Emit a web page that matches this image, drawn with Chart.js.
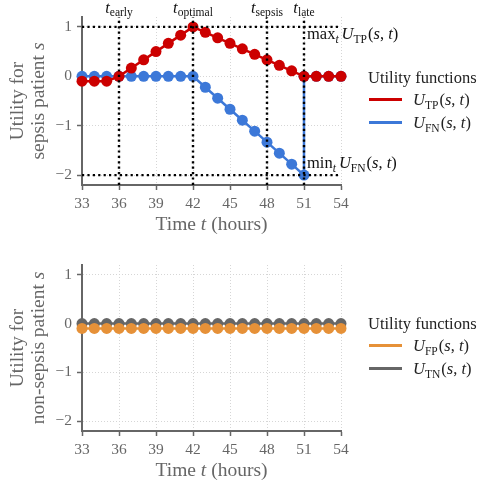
<!DOCTYPE html>
<html>
<head>
<meta charset="utf-8">
<script src="https://cdn.jsdelivr.net/npm/chart.js@4.4.1/dist/chart.umd.min.js"></script>
<style>
  html, body { margin: 0; padding: 0; background: #fff; }
  #wrap { position: relative; width: 478px; height: 482px; }
  .box { position: absolute; left: 0; width: 478px; }
</style>
</head>
<body>
<div id="wrap">
  <div class="box" style="top:0;height:240px"><canvas id="c1"></canvas></div>
  <div class="box" style="top:240px;height:242px"><canvas id="c2"></canvas></div>
</div>
<script>
// ---- data ----
const hours = [33,34,35,36,37,38,39,40,41,42,43,44,45,46,47,48,49,50,51,52,53,54];
const uTP   = [-0.1,-0.1,-0.1,0,0.167,0.333,0.5,0.667,0.833,1,0.889,0.778,0.667,0.556,0.444,0.333,0.222,0.111,0,0,0,0];
const fnHours = [33,34,35,36,37,38,39,40,41,42,43,44,45,46,47,48,49,50,51,51,52,53,54];
const uFN   = [0,0,0,0,0,0,0,0,0,0,-0.222,-0.444,-0.667,-0.889,-1.111,-1.333,-1.556,-1.778,-2,0,0,0,0];
const uFP   = [-0.1,-0.1,-0.1,-0.1,-0.1,-0.1,-0.1,-0.1,-0.1,-0.1,-0.1,-0.1,-0.1,-0.1,-0.1,-0.1,-0.1,-0.1,-0.1,-0.1,-0.1,-0.1];
const uTN   = [0,0,0,0,0,0,0,0,0,0,0,0,0,0,0,0,0,0,0,0,0,0];
const xTicks = [33,36,39,42,45,48,51,54];
const yTicks = [-2,-1,0,1];
const keyTimes = [36,42,48,51];
const keyTimeNames = ['early','optimal','sepsis','late'];
const refLevels = [1,-2];
const legendTitle = 'Utility functions';
const topSubs = ['TP','FN'];
const bottomSubs = ['FP','TN'];

const COLORS = { TP:'#cc0000', FN:'#3c78d8', FP:'#e69138', TN:'#666666' };
const FONT = "'Liberation Serif', 'DejaVu Serif', serif";

function pts(xs, ys){ return xs.map((x,i)=>({x:x, y:ys[i]})); }

// rich text: parts [{t, it, sub}]
function richWidth(ctx, parts, size){
  let w = 0;
  for (const p of parts){
    const s = p.sub ? size*0.7 : size;
    ctx.font = (p.it ? 'italic ' : '') + s + 'px ' + FONT;
    w += ctx.measureText(p.t).width + (p.gap||0);
  }
  return w;
}
function drawRich(ctx, parts, x, y, align, size, color){
  const w = richWidth(ctx, parts, size);
  let cx = align === 'center' ? x - w/2 : (align === 'right' ? x - w : x);
  ctx.save();
  ctx.fillStyle = color;
  ctx.textBaseline = 'alphabetic';
  ctx.textAlign = 'left';
  for (const p of parts){
    const s = p.sub ? size*0.7 : size;
    ctx.font = (p.it ? 'italic ' : '') + s + 'px ' + FONT;
    ctx.fillText(p.t, cx, y + (p.sub ? size*0.22 : 0));
    cx += ctx.measureText(p.t).width + (p.gap||0);
  }
  ctx.restore();
}
function uLabel(sub){
  return [{t:'U', it:true}, {t:sub, sub:true, gap:1}, {t:'(', it:false}, {t:'s', it:true}, {t:', ', it:false}, {t:'t', it:true}, {t:')', it:false}];
}

const decoPlugin = {
  id: 'deco',
  afterDatasetsDraw(chart, args, opts){
    const ctx = chart.ctx, xs = chart.scales.x, ys = chart.scales.y, ca = chart.chartArea;
    if (opts.refs){
      ctx.save();
      ctx.strokeStyle = '#000';
      ctx.lineWidth = 2.4;
      ctx.setLineDash([2.2, 3.2]);
      for (const lv of refLevels){
        const py = ys.getPixelForValue(lv);
        ctx.beginPath(); ctx.moveTo(ca.left, py); ctx.lineTo(ca.right, py); ctx.stroke();
      }
      for (const t of keyTimes){
        const px = xs.getPixelForValue(t);
        ctx.beginPath(); ctx.moveTo(px, ca.bottom); ctx.lineTo(px, ca.top); ctx.stroke();
      }
      ctx.restore();
      keyTimes.forEach((t,i)=>{
        const px = xs.getPixelForValue(t);
        drawRich(ctx, [{t:'t', it:true}, {t:keyTimeNames[i], sub:true}], px, 12.5, 'center', 16.5, '#111');
      });
      const ax = xs.getPixelForValue(51) + 3;
      drawRich(ctx, [{t:'max', it:false}, {t:'t', it:true, sub:true, gap:3}].concat(uLabel('TP')), ax, ys.getPixelForValue(1) + 12, 'left', 16.5, '#111');
      drawRich(ctx, [{t:'min', it:false}, {t:'t', it:true, sub:true, gap:3}].concat(uLabel('FN')), ax, ys.getPixelForValue(-2) - 7, 'left', 16.5, '#111');
    }
  },
  afterDraw(chart, args, opts){
    const ctx = chart.ctx, ca = chart.chartArea;
    // axis titles
    const midX = (ca.left + ca.right)/2;
    drawRich(ctx, [{t:'Time '}, {t:'t', it:true}, {t:' (hours)'}], midX, ca.bottom + 44.5, 'center', 19.5, '#666');
    const midY = (ca.top + ca.bottom)/2;
    ctx.save();
    ctx.translate(0, midY);
    ctx.rotate(-Math.PI/2);
    drawRich(ctx, [{t:'Utility for'}], 0, 23, 'center', 19.5, '#666');
    drawRich(ctx, [{t:opts.who + ' patient '}, {t:'s', it:true}], 0, 44, 'center', 19.5, '#666');
    ctx.restore();
    // legend
    const ly = ca.top + opts.legendTop;
    drawRich(ctx, [{t:legendTitle}], 368, ly, 'left', 16.5, '#222');
    chart.data.datasets.forEach((ds, i)=>{
      const yy = ly + 22.5 + i*23;
      ctx.save();
      ctx.strokeStyle = ds.borderColor;
      ctx.lineWidth = 2.8;
      ctx.beginPath(); ctx.moveTo(369, yy - 5.5); ctx.lineTo(402, yy - 5.5); ctx.stroke();
      ctx.restore();
      drawRich(ctx, uLabel(opts.subs[i]), 413, yy, 'left', 16.5, '#222');
    });
  }
};

function makeOptions(xHeight, topPad, extra){
  return {
    responsive: true,
    maintainAspectRatio: false,
    animation: false,
    events: [],
    layout: { padding: { top: topPad, right: 137, left: 0, bottom: 0 } },
    plugins: { legend: { display: false }, tooltip: { enabled: false }, deco: extra },
    elements: { line: { tension: 0, borderWidth: 2.5 }, point: { radius: 5.5, borderWidth: 0 } },
    scales: {
      x: {
        type: 'linear', min: 33, max: 54,
        afterBuildTicks: s => { s.ticks = xTicks.map(v => ({ value: v })); },
        afterFit: s => { s.height = xHeight; },
        ticks: { font: { family: FONT, size: 15.5 }, color: '#666', padding: 5, maxRotation: 0, autoSkip: false },
        grid: { color: '#d6d6d6', lineWidth: 1, drawTicks: true, tickLength: 5, tickColor: '#666', tickWidth: 1.5 },
        border: { display: true, color: '#666', width: 2, dash: [1, 2] }
      },
      y: {
        type: 'linear', min: -2.2, max: 1.2,
        afterBuildTicks: s => { s.ticks = yTicks.map(v => ({ value: v })); },
        afterFit: s => { s.width = 82; },
        ticks: { font: { family: FONT, size: 15.5 }, color: '#666', padding: 5,
                 callback: v => String(v).replace('-', '\u2212') },
        grid: { color: '#d6d6d6', lineWidth: 1, drawTicks: true, tickLength: 5, tickColor: '#666', tickWidth: 1.5 },
        border: { display: true, color: '#666', width: 2, dash: [1, 2] }
      }
    }
  };
}

new Chart(document.getElementById('c1'), {
  type: 'line',
  data: { datasets: [
    { label: 'U_TP', data: pts(hours, uTP), borderColor: COLORS.TP, backgroundColor: COLORS.TP, pointBackgroundColor: COLORS.TP, clip: false },
    { label: 'U_FN', data: pts(fnHours, uFN), borderColor: COLORS.FN, backgroundColor: COLORS.FN, pointBackgroundColor: COLORS.FN, clip: false }
  ]},
  options: makeOptions(55, 17, { refs: true, who: 'sepsis', subs: topSubs, legendTop: 65.5 }),
  plugins: [decoPlugin]
});

new Chart(document.getElementById('c2'), {
  type: 'line',
  data: { datasets: [
    { label: 'U_FP', data: pts(hours, uFP), borderColor: COLORS.FP, backgroundColor: COLORS.FP, pointBackgroundColor: COLORS.FP, clip: false },
    { label: 'U_TN', data: pts(hours, uTN), borderColor: COLORS.TN, backgroundColor: COLORS.TN, pointBackgroundColor: COLORS.TN, clip: false }
  ]},
  options: makeOptions(51, 25, { refs: false, who: 'non-sepsis', subs: bottomSubs, legendTop: 63.5 }),
  plugins: [decoPlugin]
});
</script>
</body>
</html>
